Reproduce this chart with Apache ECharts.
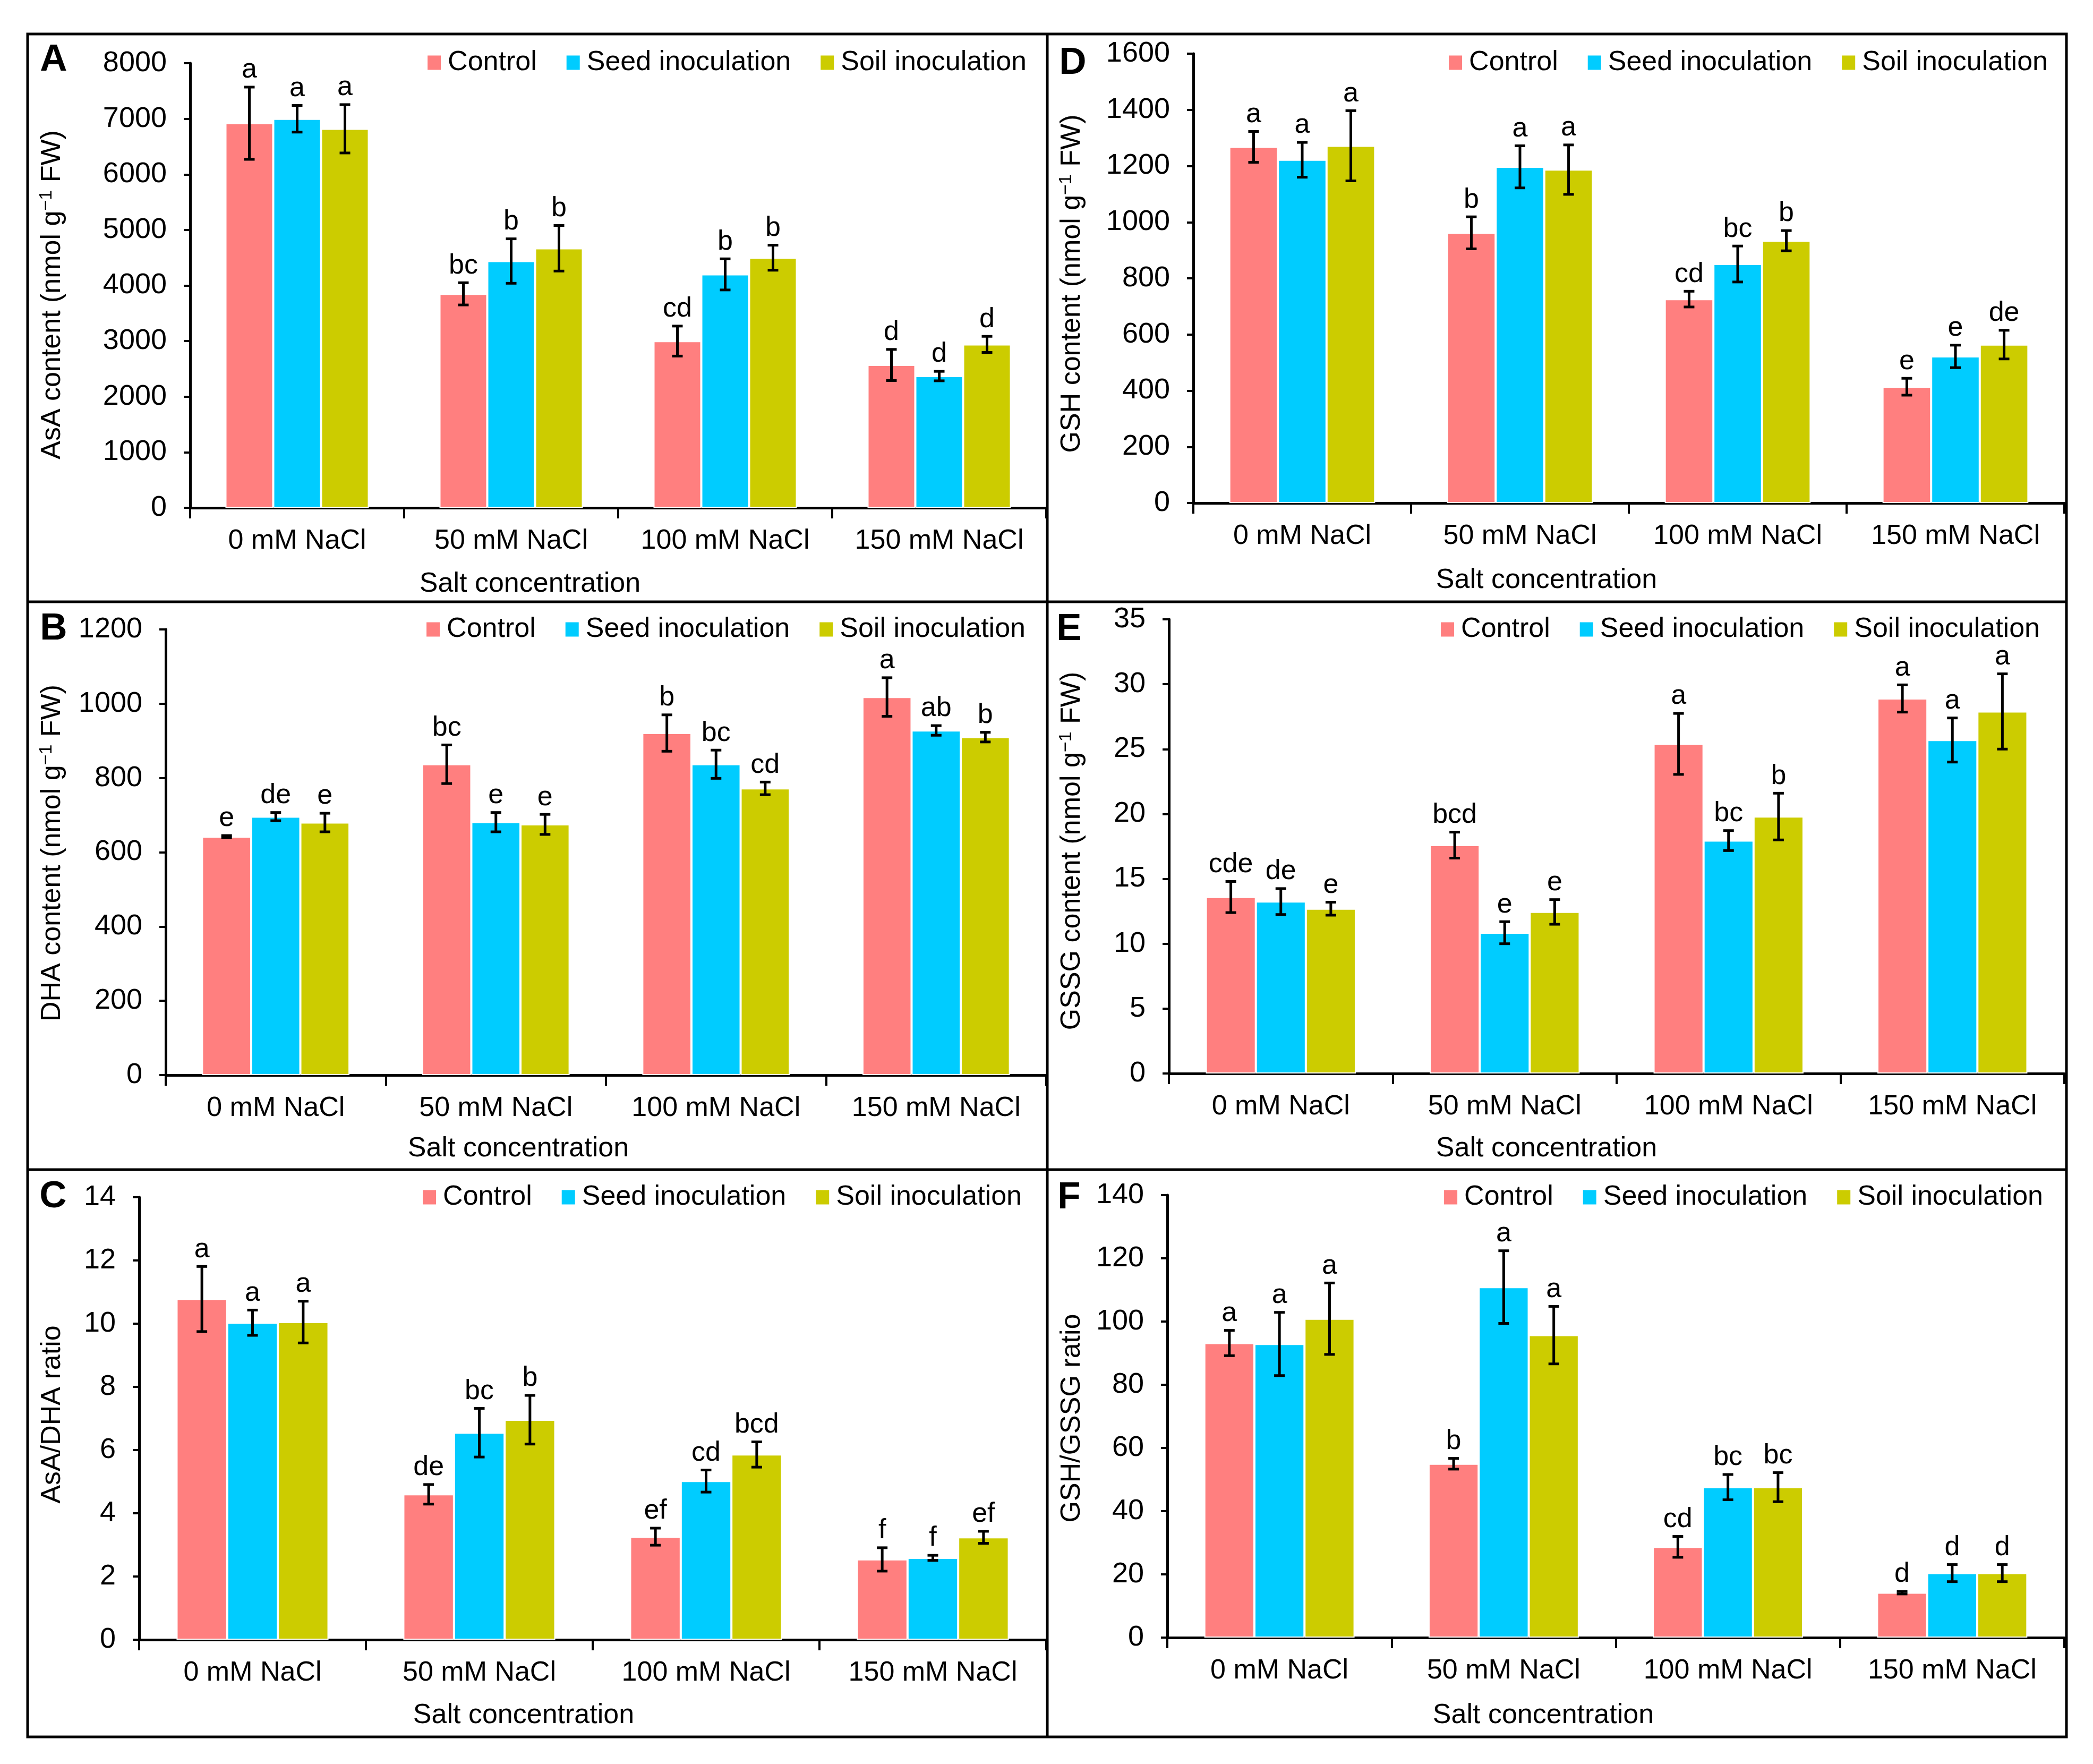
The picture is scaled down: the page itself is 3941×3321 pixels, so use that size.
<!DOCTYPE html>
<html><head><meta charset="utf-8">
<script src="https://cdn.jsdelivr.net/npm/echarts@6/dist/echarts.min.js"></script>
<style>html,body{margin:0;padding:0;background:#fff}#c{width:3941px;height:3321px}</style>
</head><body><div id="c"></div>
<script>
const categories = ['0 mM NaCl','50 mM NaCl','100 mM NaCl','150 mM NaCl'];
const seriesNames = ['Control','Seed inoculation','Soil inoculation'];
const colors = ['#FF7F7F','#00CCFF','#CCCC00'];

// A: AsA content
const asaControl = [6920, 3850, 3000, 2570];
const asaControlErr = [650, 200, 270, 280];
const asaSeed = [7000, 4440, 4200, 2370];
const asaSeedErr = [240, 400, 280, 85];
const asaSoil = [6820, 4670, 4500, 2940];
const asaSoilErr = [435, 410, 225, 145];
const asaLetters = [['a','bc','cd','d'],['a','b','b','d'],['a','b','b','d']];

// B: DHA content
const dhaControl = [642, 837, 921, 1018];
const dhaControlErr = [3, 52, 49, 52];
const dhaSeed = [696, 681, 837, 928];
const dhaSeedErr = [11, 26, 38, 13];
const dhaSoil = [680, 675, 772, 910];
const dhaSoilErr = [25, 27, 17, 13];
const dhaLetters = [['e','bc','b','a'],['de','e','bc','ab'],['e','e','cd','b']];

// C: AsA/DHA ratio
const ratioAControl = [10.78, 4.6, 3.26, 2.54];
const ratioAControlErr = [1.03, 0.31, 0.27, 0.37];
const ratioASeed = [10.03, 6.55, 5.02, 2.59];
const ratioASeedErr = [0.4, 0.77, 0.35, 0.08];
const ratioASoil = [10.05, 6.96, 5.86, 3.24];
const ratioASoilErr = [0.66, 0.77, 0.4, 0.19];
const ratioALetters = [['a','de','ef','f'],['a','bc','cd','f'],['a','b','bcd','ef']];

// D: GSH content
const gshControl = [1268, 962, 726, 414];
const gshControlErr = [55, 57, 28, 30];
const gshSeed = [1222, 1197, 851, 522];
const gshSeedErr = [62, 75, 64, 40];
const gshSoil = [1272, 1187, 934, 564];
const gshSoilErr = [125, 88, 36, 51];
const gshLetters = [['a','b','cd','e'],['a','a','bc','e'],['a','a','b','de']];

// E: GSSG content
const gssgControl = [13.6, 17.6, 25.4, 28.9];
const gssgControlErr = [1.2, 1.0, 2.35, 1.05];
const gssgSeed = [13.25, 10.85, 17.95, 25.7];
const gssgSeedErr = [1.0, 0.85, 0.77, 1.7];
const gssgSoil = [12.7, 12.45, 19.8, 27.9];
const gssgSoilErr = [0.5, 0.95, 1.8, 2.9];
const gssgLetters = [['cde','bcd','a','a'],['de','e','bc','a'],['e','e','b','a']];

// F: GSH/GSSG ratio
const ratioGControl = [93.2, 55.0, 28.7, 14.2];
const ratioGControlErr = [4, 1.7, 3.3, 0.4];
const ratioGSeed = [92.9, 110.9, 47.6, 20.4];
const ratioGSeedErr = [10, 11.5, 4, 2.7];
const ratioGSoil = [100.9, 95.7, 47.6, 20.4];
const ratioGSoilErr = [11.3, 9.1, 4.6, 2.7];
const ratioGLetters = [['a','b','cd','d'],['a','a','bc','d'],['a','a','bc','d']];

// axis scales (tick labels from 0 to max step interval)
const yMax = [8000, 1600, 1200, 35, 14, 140];
const yInterval = [1000, 200, 200, 5, 2, 20];
const panelLetters = ['A','D','B','E','C','F'];
const yTitles = ['AsA content (nmol g', 'GSH content (nmol g', 'DHA content (nmol g', 'GSSG content (nmol g', 'AsA/DHA ratio', 'GSH/GSSG ratio'];

const panelData = [
  {vals:[asaControl,asaSeed,asaSoil], errs:[asaControlErr,asaSeedErr,asaSoilErr], letters:asaLetters},
  {vals:[gshControl,gshSeed,gshSoil], errs:[gshControlErr,gshSeedErr,gshSoilErr], letters:gshLetters},
  {vals:[dhaControl,dhaSeed,dhaSoil], errs:[dhaControlErr,dhaSeedErr,dhaSoilErr], letters:dhaLetters},
  {vals:[gssgControl,gssgSeed,gssgSoil], errs:[gssgControlErr,gssgSeedErr,gssgSoilErr], letters:gssgLetters},
  {vals:[ratioAControl,ratioASeed,ratioASoil], errs:[ratioAControlErr,ratioASeedErr,ratioASoilErr], letters:ratioALetters},
  {vals:[ratioGControl,ratioGSeed,ratioGSoil], errs:[ratioGControlErr,ratioGSeedErr,ratioGSoilErr], letters:ratioGLetters}
];

// layout (pixels)
const layout = [
  {left:358, top:119, width:1612, height:837, legRight:2008, legY:118, yt:[99,555], xt:[998,1100], pl:[101,113]},
  {left:2247, top:101, width:1640, height:846, legRight:85, legY:118, yt:[2019,534], xt:[2912,1093], pl:[2020,119]},
  {left:312, top:1185, width:1658, height:839, legRight:2010, legY:1185, yt:[99,1606], xt:[976,2163], pl:[101,1184]},
  {left:2201, top:1166, width:1686, height:855, legRight:100, legY:1185, yt:[2019,1602], xt:[2912,2163], pl:[2013,1185]},
  {left:262, top:2254, width:1708, height:833, legRight:2017, legY:2254, yt:[99,2663], xt:[986,3230], pl:[100,2253]},
  {left:2198, top:2250, width:1689, height:833, legRight:94, legY:2254, yt:[2019,2670], xt:[2906,3230], pl:[2013,2255]}
];

const FONT = '"Liberation Sans", Arial, sans-serif';
const GAP = 0.33;

const grid = [], xAxis = [], yAxis = [], series = [], legend = [], graphic = [];

layout.forEach((L, p) => {
  grid.push({left:L.left, top:L.top, width:L.width, height:L.height, containLabel:false});
  xAxis.push({type:'category', gridIndex:p, data:categories,
    axisLine:{lineStyle:{color:'#000', width:5}},
    axisTick:{show:true, length:20, lineStyle:{color:'#000', width:4}},
    axisLabel:{color:'#000', fontSize:52, fontFamily:FONT, margin:37, interval:0}
  });
  yAxis.push({type:'value', gridIndex:p, min:0, max:yMax[p], interval:yInterval[p],
    splitLine:{show:false},
    axisLine:{show:true, lineStyle:{color:'#000', width:5}},
    axisTick:{show:true, length:12, lineStyle:{color:'#000', width:4}},
    axisLabel:{color:'#000', fontSize:54, fontFamily:FONT, margin:44, formatter:(v)=>String(v)}
  });
  legend.push({right:L.legRight, top:L.legY-28, padding:0, itemGap:56, itemWidth:25, itemHeight:27,
    icon:'rect', data:seriesNames, itemStyle:{borderWidth:0},
    textStyle:{color:'#000', fontSize:52, fontFamily:FONT, lineHeight:56, padding:[0,0,0,8]}});
  const D = panelData[p];
  for (let s = 0; s < 3; s++) {
    series.push({type:'bar', name:seriesNames[s], xAxisIndex:p, yAxisIndex:p,
      data:D.vals[s], barGap:'0%', barCategoryGap:(GAP*100)+'%',
      itemStyle:{color:colors[s], borderColor:'#fff', borderWidth:2}, z:2});
  }
  for (let s = 0; s < 3; s++) {
    const vals = D.vals[s], errs = D.errs[s], lets = D.letters[s];
    series.push({type:'custom', xAxisIndex:p, yAxisIndex:p, z:5, silent:true,
      data: vals.map((v,i)=>[i, v, errs[i]]),
      renderItem: (params, api) => {
        const ci = api.value(0), v = api.value(1), e = api.value(2);
        const c = api.coord([ci, v]);
        const band = api.size([1, 0])[0];
        const bw = band * (1 - GAP) / 3;
        const x = c[0] + (s - 1) * bw;
        const top = api.coord([ci, v + e])[1];
        const bot = api.coord([ci, v - e])[1];
        const cap = 10;
        const st = {stroke:'#000', lineWidth:5};
        return {type:'group', children:[
          {type:'line', shape:{x1:x, y1:top, x2:x, y2:bot}, style:st},
          {type:'line', shape:{x1:x-cap, y1:top, x2:x+cap, y2:top}, style:st},
          {type:'line', shape:{x1:x-cap, y1:bot, x2:x+cap, y2:bot}, style:st},
          {type:'text', x:x, y:top-6, style:{text:lets[params.dataIndex], textAlign:'center', textVerticalAlign:'bottom', font:'52px ' + FONT, fill:'#000'}}
        ]};
      }
    });
  }
  // y-axis title
  const isContent = yTitles[p].indexOf('content') >= 0;
  graphic.push({type:'text', x:L.yt[0], y:L.yt[1], rotation:Math.PI/2,
    style:{text: isContent ? '{a|' + yTitles[p] + '}{s|−1}{a| FW)}' : '{a|' + yTitles[p] + '}',
      rich:{a:{fontSize:52, fontFamily:FONT, fill:'#000', color:'#000'}, s:{fontSize:34, fontFamily:FONT, fill:'#000', color:'#000', padding:[0,0,22,0]}},
      textAlign:'center', textVerticalAlign:'middle', fill:'#000'}});
  // x-axis title
  graphic.push({type:'text', x:L.xt[0], y:L.xt[1],
    style:{text:'Salt concentration', font:'52px ' + FONT, fill:'#000', textAlign:'center', textVerticalAlign:'middle'}});
  // panel letter
  graphic.push({type:'text', x:L.pl[0], y:L.pl[1],
    style:{text:panelLetters[p], font:'bold 71px ' + FONT, fill:'#000', textAlign:'center', textVerticalAlign:'middle'}});
});

// frame
graphic.push({type:'rect', shape:{x:52, y:64, width:3839, height:3206}, style:{fill:'none', stroke:'#000', lineWidth:5}});
graphic.push({type:'line', shape:{x1:1972, y1:64, x2:1972, y2:3270}, style:{stroke:'#000', lineWidth:5}});
graphic.push({type:'line', shape:{x1:52, y1:1133, x2:3891, y2:1133}, style:{stroke:'#000', lineWidth:5}});
graphic.push({type:'line', shape:{x1:52, y1:2202, x2:3891, y2:2202}, style:{stroke:'#000', lineWidth:5}});

const chart = echarts.init(document.getElementById('c'), null, {renderer:'canvas'});
chart.setOption({backgroundColor:'#fff', animation:false, grid, xAxis, yAxis, series, legend, graphic});
</script></body></html>
